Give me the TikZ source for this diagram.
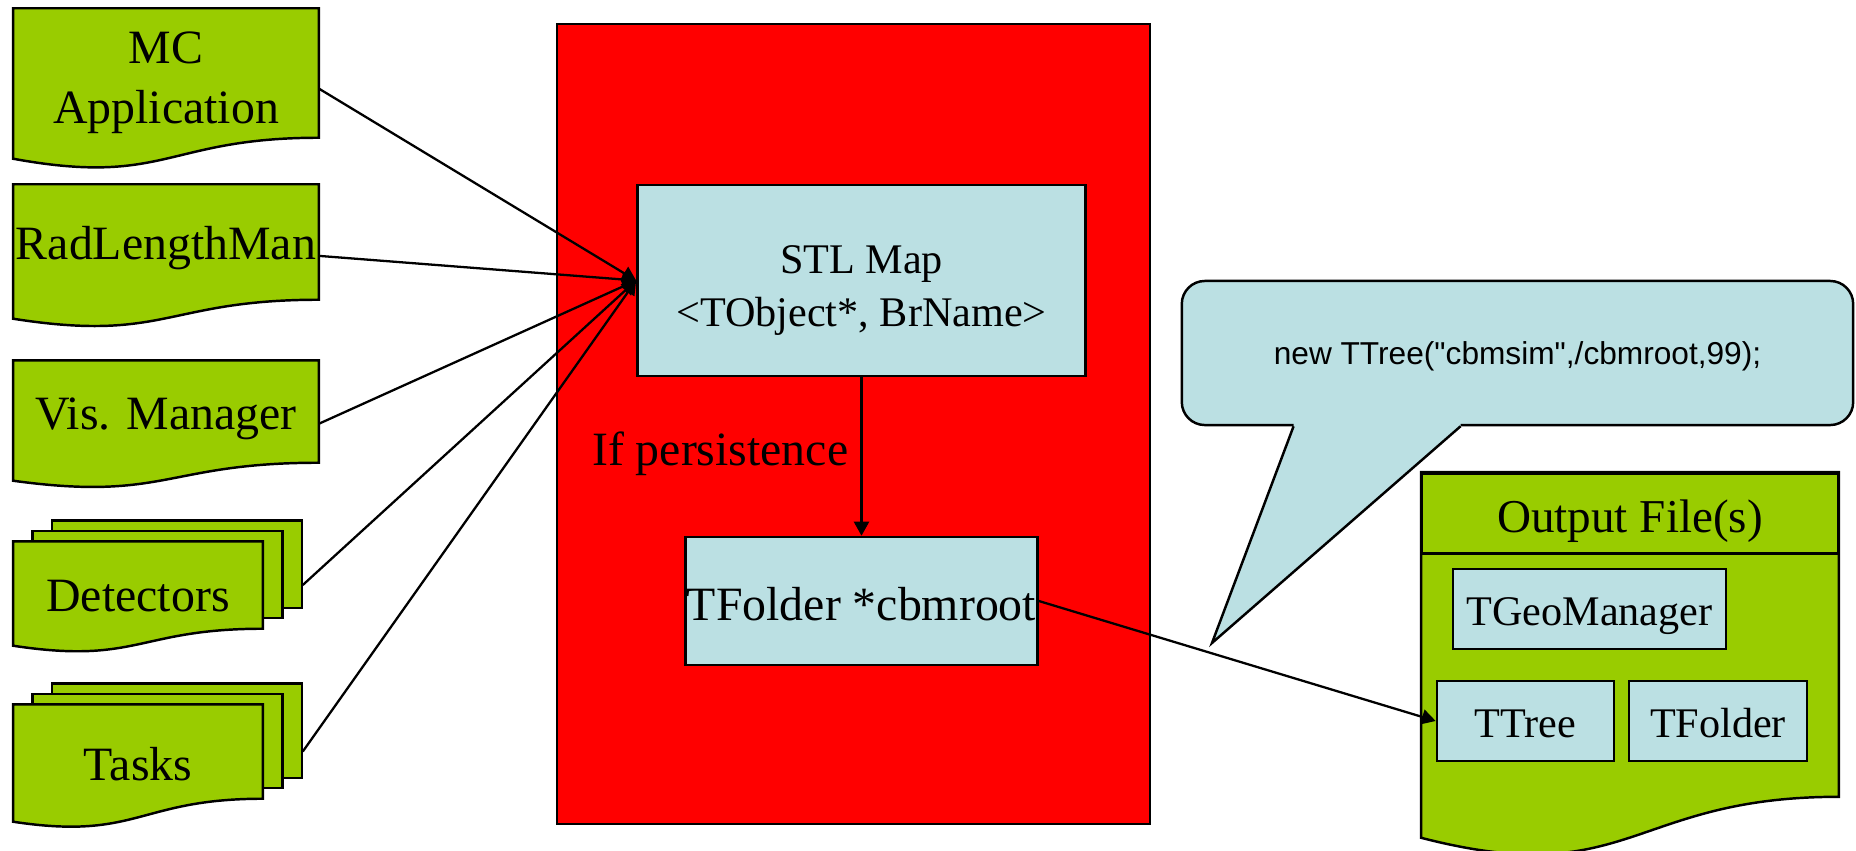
\documentclass[tikz,border=0pt]{standalone}
\usepackage{fontspec}
\setmainfont{Liberation Serif}
\newfontfamily\notefont{Liberation Sans}[Ligatures=TeXOff]
\definecolor{ppgreen}{HTML}{99CC00}
\definecolor{ppblue}{HTML}{BBE0E3}
\definecolor{ppred}{HTML}{FF0000}
\usepackage{tikz}
\usetikzlibrary{arrows.meta,calc,backgrounds}

% wavy "document" sheet round a node: node, drop of left corner, depth of wave
\newcommand\docsheet[3]{%
  \draw[sheet] (#1.north west) -- (#1.north east) -- (#1.south east)
    .. controls (#1.south) and ($(#1.south)+(0,#3)$) .. ($(#1.south west)+(0,#2)$) -- cycle;}

\begin{document}
\begin{tikzpicture}[x=0.01cm, y=-0.01cm,
  sheet/.style={draw, line width=0.7pt, fill=ppgreen},
  item/.style={inner sep=0pt, align=center, font=\fontsize{13.6}{17}\selectfont,
    text height=0.45cm, text depth=0.1cm},
  small/.style={font=\fontsize{12}{14.8}\selectfont, text height=0.41cm, text depth=0.09cm},
  box/.style={item, draw, line width=0.7pt, fill=ppblue},
  edge/.style={-{Triangle[length=0.14cm,width=0.15cm]}, line width=0.65pt}
]
  \useasboundingbox (0,0) rectangle (1856,851);

  % Inputs
  \node[item, text height=1.11cm, minimum width=3.04cm, minimum height=1.28cm] (mc) at (166,73) {MC\\Application};
  \node[item, minimum width=3.04cm, minimum height=1.14cm] (rad) at (166,242) {RadLengthMan};
  \node[item, minimum width=3.04cm, minimum height=1.01cm] (vis) at (166,411.5) {Vis. Manager};
  \node[item, text height=0.62cm, minimum width=2.48cm, minimum height=0.86cm] (det) at (138,585) {Detectors};
  \node[item, text height=0.67cm, minimum width=2.48cm, minimum height=0.93cm] (task) at (138,751.5) {Tasks};

  % Core
  \node[draw, line width=0.7pt, fill=ppred, minimum width=5.93cm, minimum height=8cm] (core) at (853.5,424) {};
  \node[box, small, text height=1cm, minimum width=4.48cm, minimum height=1.91cm] (stl) at (861.5,280.5) {STL Map\\<TObject*, BrName>};
  \node[box, text height=0.49cm, minimum width=3.52cm, minimum height=1.28cm] (fold) at (861.5,601) {TFolder *cbmroot};

  % Call-out
  \node[draw, line width=0.7pt, fill=ppblue, rounded corners=0.23cm, minimum width=6.71cm,
    minimum height=1.44cm, text height=0.3cm, text depth=0.072cm,
    font=\notefont\fontsize{9}{11}\selectfont] (note) at (1517.5,353) {new TTree("cbmsim",/cbmroot,99);};
  \coordinate (tip) at (1212,643);
  \fill[ppblue] ($(note.south west)+(113,0)$) -- (tip) -- ($(note.south west)+(280,0)$)
    -- ($(note.south west)+(280,-5)$) -- ($(note.south west)+(113,-5)$) -- cycle;
  \draw[line width=0.7pt] ($(note.south west)+(113,0)$) -- (tip) -- ($(note.south west)+(280,0)$);

  % Output file
  \node[item, minimum width=4.16cm, minimum height=3.23cm] (out) at (1630,634.5) {};
  \node[item, draw, line width=0.7pt, font=\fontsize{13.4}{16}\selectfont, text height=0.49cm,
    minimum width=4.16cm, minimum height=0.8cm, anchor=north] (outhead) at (out.north) {Output File(s)};
  \node[box, small, minimum width=2.73cm, minimum height=0.8cm] (geo) at (1589.5,609) {TGeoManager};
  \node[box, small, minimum width=1.77cm, minimum height=0.8cm] (ttree) at (1525.5,721) {TTree};
  \node[box, small, minimum width=1.78cm, minimum height=0.8cm] (tfold) at (1718,721) {TFolder};

  % Sheets behind the texts
  \begin{scope}[on background layer]
    \docsheet{mc}{21}{49}
    \docsheet{rad}{19}{43}
    \docsheet{vis}{18}{39}
    \foreach \n in {det,task} {
      \draw[sheet] ([shift={(39,-21)}]\n.north west) rectangle ([shift={(39,-21)}]\n.south east);
      \draw[sheet] ([shift={(19.5,-10.5)}]\n.north west) rectangle ([shift={(19.5,-10.5)}]\n.south east);
    }
    \docsheet{det}{17}{36}
    \docsheet{task}{23}{42}
    \docsheet{out}{41}{95}
  \end{scope}

  % Edges
  \draw[edge] ($(mc.south east)!.38!(mc.north east)$) -- (stl.west);
  \draw[edge] ($(rad.south east)!.38!(rad.north east)$) -- (stl.west);
  \draw[edge] ($(vis.south east)!.38!(vis.north east)$) -- (stl.west);
  \draw[edge] ([xshift=0.4cm]det.east) -- (stl.west);
  \draw[edge] ([xshift=0.4cm]task.east) -- (stl.west);
  \draw[edge] (stl) -- node[item, left, pos=0.48, inner sep=0.12cm, text height=, text depth=] (pers) {If persistence} (fold);
  \draw[edge] (fold.east) -- (ttree.west);
\end{tikzpicture}
\end{document}
